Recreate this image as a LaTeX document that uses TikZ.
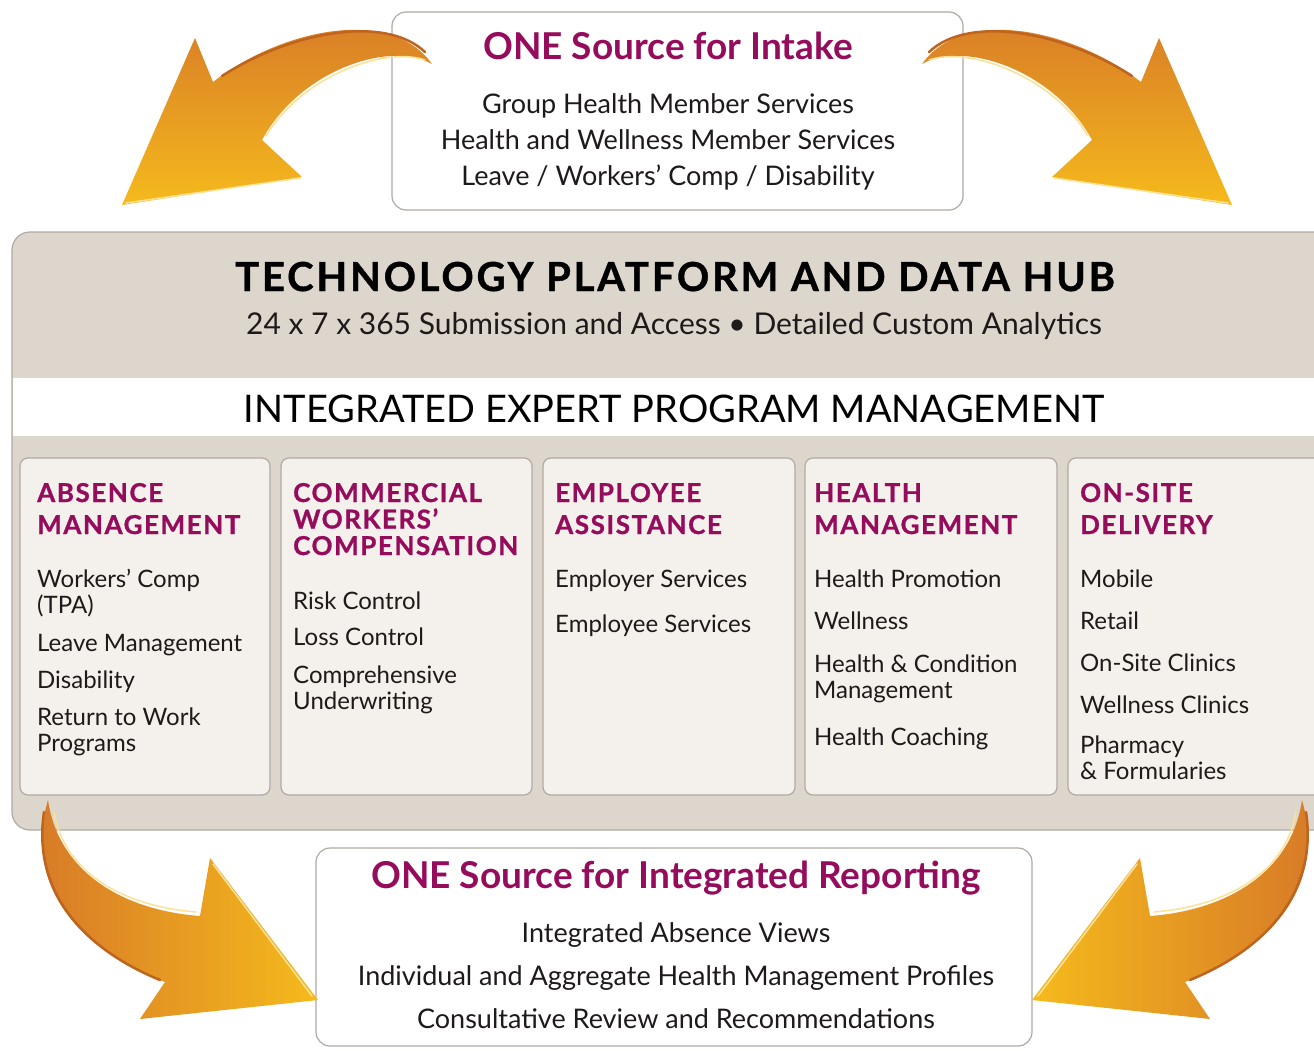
\documentclass[tikz,border=0pt]{standalone}
\usepackage{fontspec}
\setmainfont{Lato}
\usetikzlibrary{shadings}
\definecolor{mag}{RGB}{150,12,92}
\definecolor{platfill}{RGB}{221,214,204}
\definecolor{colfill}{RGB}{244,240,235}
\definecolor{bord}{RGB}{175,170,164}
\definecolor{arrdark}{RGB}{214,120,40}
\definecolor{arrlight}{RGB}{245,186,28}
\definecolor{arrrim}{RGB}{190,100,30}
\definecolor{arrhi}{RGB}{252,225,150}
\definecolor{txt}{RGB}{30,26,26}
\tikzset{
  card/.style={draw=bord, line width=1.2pt, rounded corners=14, fill=white},
  colbox/.style={draw=bord, line width=1.2pt, rounded corners=8, fill=colfill},
  bigtitle/.style={text=mag, font=\fontsize{37}{40}\selectfont\bfseries, anchor=base},
  cardline/.style={text=txt, font=\fontsize{27}{30}\selectfont, anchor=base},
  colhead/.style={text=mag, font=\fontsize{26}{32}\selectfont\bfseries\addfontfeature{LetterSpace=6,FakeBold=1}, anchor=base west, align=left, inner sep=0pt},
  colheadtight/.style={colhead, font=\fontsize{26}{26.5}\selectfont\bfseries\addfontfeature{LetterSpace=6,FakeBold=1}},
  item/.style={text=txt, font=\fontsize{24}{26}\selectfont, anchor=base west, align=left, inner sep=0pt},
}
\begin{document}
\begin{tikzpicture}[x=1pt,y=-1pt]
\useasboundingbox (0,0) rectangle (1314,1050);
\clip (0,0) rectangle (1314,1050);
\fill[white] (0,0) rectangle (1314,1050);

% top card
\draw[card] (392,12) rectangle (963,210);
\node[bigtitle] (t0) at (668,59) {ONE Source for Intake};
\node[cardline] (t1) at (668,113) {Group Health Member Services};
\node[cardline] (t2) at (668,149) {Health and Wellness Member Services};
\node[cardline] (t3) at (668,185) {Leave / Workers' Comp / Disability};

% platform
\draw[draw=bord, line width=1.2pt, fill=platfill, rounded corners=18] (12,232) rectangle (1340,830);
\fill[white] (12.6,378) rectangle (1340,436);
\node[text=black, font=\fontsize{40}{44}\selectfont\bfseries\addfontfeature{LetterSpace=7,FakeBold=1}, anchor=base] (p0) at (675,291) {TECHNOLOGY PLATFORM AND DATA HUB};
\node[text=txt, font=\fontsize{30}{34}\selectfont, anchor=base] (p1) at (674,334) {24 x 7 x 365 Submission and Access \textbullet\ Detailed Custom Analytics};
\node[text=black, font=\fontsize{38}{42}\selectfont, anchor=base] (p2) at (674,422) {INTEGRATED EXPERT PROGRAM MANAGEMENT};

% columns
\draw[colbox] (20,458) rectangle (270,795);
\draw[colbox] (281,458) rectangle (532,795);
\draw[colbox] (543,458) rectangle (795,795);
\draw[colbox] (805,458) rectangle (1057,795);
\draw[colbox] (1068,458) rectangle (1340,795);

\node[colhead] (h1) at (37,534) {ABSENCE\\MANAGEMENT};
\node[item] (a1) at (37,613) {Workers' Comp\\(TPA)};
\node[item] (a2) at (37,651) {Leave Management};
\node[item] (a3) at (37,688) {Disability};
\node[item] (a4) at (37,751) {Return to Work\\Programs};

\node[colheadtight] (h2) at (293,555) {COMMERCIAL\\WORKERS'\\COMPENSATION};
\node[item] (b1) at (293,609) {Risk Control};
\node[item] (b2) at (293,645) {Loss Control};
\node[item] (b3) at (293,709) {Comprehensive\\Underwriting};

\node[colhead] (h3) at (555,534) {EMPLOYEE\\ASSISTANCE};
\node[item] (c1) at (555,587) {Employer Services};
\node[item] (c2) at (555,632) {Employee Services};

\node[colhead] (h4) at (814,534) {HEALTH\\MANAGEMENT};
\node[item] (d1) at (814,587) {Health Promotion};
\node[item] (d2) at (814,629) {Wellness};
\node[item] (d3) at (814,698) {Health \& Condition\\Management};
\node[item] (d4) at (814,745) {Health Coaching};

\node[colhead] (h5) at (1080,534) {ON-SITE\\DELIVERY};
\node[item] (e1) at (1080,587) {Mobile};
\node[item] (e2) at (1080,629) {Retail};
\node[item] (e3) at (1080,671) {On-Site Clinics};
\node[item] (e4) at (1080,713) {Wellness Clinics};
\node[item] (e5) at (1080,779) {Pharmacy\\\& Formularies};

% bottom card
\draw[card] (316,848) rectangle (1032,1046);
\node[bigtitle] (r0) at (676,888) {ONE Source for Integrated Reporting};
\node[cardline] (r1) at (676,942) {Integrated Absence Views};
\node[cardline] (r2) at (676,985) {Individual and Aggregate Health Management Profiles};
\node[cardline] (r3) at (676,1028) {Consultative Review and Recommendations};

% arrows: top-left
\shade[top color=arrdark, bottom color=arrlight]
  (432,64) .. controls (390,5) and (280,30) .. (213,82) -- (195,38) -- (122,205) -- (302,177) -- (262,140)
  .. controls (300,70) and (390,40) .. (432,64) -- cycle;
\draw[arrrim, line width=2.5pt, line cap=round] (425,52) .. controls (385,14) and (290,32) .. (222,76);
\draw[arrhi, line width=1.5pt, line cap=round] (266,136) .. controls (302,76) and (385,46) .. (425,60);
\draw[arrhi, line width=1.5pt, line cap=round] (126,203) -- (300,178);
% top-right
\shade[top color=arrdark, bottom color=arrlight]
  (922,64) .. controls (964,5) and (1074,30) .. (1141,82) -- (1159,38) -- (1232,205) -- (1052,177) -- (1092,140)
  .. controls (1054,70) and (964,40) .. (922,64) -- cycle;
\draw[arrrim, line width=2.5pt, line cap=round] (929,52) .. controls (969,14) and (1064,32) .. (1132,76);
\draw[arrhi, line width=1.5pt, line cap=round] (1088,136) .. controls (1052,76) and (969,46) .. (929,60);
\draw[arrhi, line width=1.5pt, line cap=round] (1228,203) -- (1054,178);
% bottom-left
\shade[left color=arrdark, right color=arrlight]
  (48,800) .. controls (58,870) and (120,910) .. (200,916) -- (210,858) -- (318,1000) -- (140,1019) -- (165,982)
  .. controls (70,945) and (25,880) .. (48,800) -- cycle;
\draw[arrhi, line width=1.5pt, line cap=round] (54,812) .. controls (64,872) and (122,906) .. (196,912);
\draw[arrhi, line width=1.5pt, line cap=round] (213,864) -- (312,996);
\draw[arrrim, line width=2.5pt, line cap=round] (44,812) .. controls (33,885) and (75,945) .. (160,980);
% bottom-right
\shade[right color=arrdark, left color=arrlight]
  (1302,800) .. controls (1292,870) and (1230,910) .. (1150,916) -- (1140,858) -- (1032,1000) -- (1210,1019) -- (1185,982)
  .. controls (1280,945) and (1325,880) .. (1302,800) -- cycle;
\draw[arrhi, line width=1.5pt, line cap=round] (1296,812) .. controls (1286,872) and (1228,906) .. (1154,912);
\draw[arrhi, line width=1.5pt, line cap=round] (1137,864) -- (1038,996);
\draw[arrrim, line width=2.5pt, line cap=round] (1306,812) .. controls (1317,885) and (1275,945) .. (1190,980);
\end{tikzpicture}
\end{document}
